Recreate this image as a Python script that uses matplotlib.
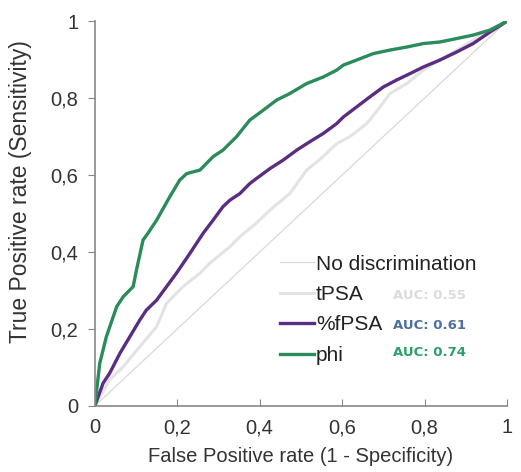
import numpy as np
import matplotlib.pyplot as plt

plt.rcParams['font.family'] = ['Liberation Sans', 'DejaVu Sans']

# ROC curves (false positive rate, true positive rate)
phi_fpr = [0, 0.012, 0.028, 0.053, 0.069, 0.093, 0.101, 0.117, 0.129, 0.150, 0.182, 0.206,
           0.223, 0.255, 0.287, 0.311, 0.344, 0.376, 0.409, 0.441, 0.473, 0.514, 0.554,
           0.587, 0.603, 0.635, 0.676, 0.716, 0.757, 0.797, 0.837, 0.878, 0.918, 0.959, 1]
phi_tpr = [0, 0.111, 0.180, 0.258, 0.284, 0.310, 0.353, 0.431, 0.449, 0.483, 0.544, 0.587,
           0.604, 0.613, 0.648, 0.665, 0.700, 0.743, 0.769, 0.795, 0.812, 0.838, 0.855,
           0.873, 0.886, 0.899, 0.916, 0.925, 0.933, 0.942, 0.946, 0.955, 0.964, 0.977, 1]

fpsa_fpr = [0, 0.020, 0.036, 0.061, 0.085, 0.109, 0.125, 0.150, 0.174, 0.198, 0.231, 0.263,
            0.287, 0.311, 0.328, 0.352, 0.376, 0.392, 0.425, 0.457, 0.490, 0.522, 0.554,
            0.587, 0.603, 0.635, 0.667, 0.700, 0.732, 0.765, 0.797, 0.837, 0.878, 0.918,
            0.959, 1]
fpsa_tpr = [0, 0.059, 0.085, 0.137, 0.180, 0.223, 0.249, 0.275, 0.310, 0.345, 0.397, 0.449,
            0.483, 0.518, 0.535, 0.552, 0.578, 0.591, 0.617, 0.639, 0.665, 0.687, 0.708,
            0.734, 0.751, 0.777, 0.803, 0.829, 0.847, 0.864, 0.881, 0.899, 0.920, 0.942,
            0.972, 1]

tpsa_fpr = [0, 0.036, 0.069, 0.109, 0.150, 0.174, 0.214, 0.255, 0.279, 0.328, 0.352, 0.392,
            0.425, 0.473, 0.514, 0.554, 0.587, 0.619, 0.660, 0.692, 0.716, 0.757, 0.797,
            0.878, 0.959, 1]
tpsa_tpr = [0, 0.068, 0.102, 0.154, 0.206, 0.267, 0.310, 0.345, 0.371, 0.414, 0.440, 0.475,
            0.509, 0.552, 0.613, 0.648, 0.682, 0.700, 0.734, 0.777, 0.812, 0.838, 0.873,
            0.925, 0.977, 1]

diag = [0, 1]
auc_labels = ['AUC: 0.55', 'AUC: 0.61', 'AUC: 0.74']
ticks = [0, 0.2, 0.4, 0.6, 0.8, 1]
tick_labels = ['0', '0,2', '0,4', '0,6', '0,8', '1']

fig = plt.figure(figsize=(5.21, 4.72), dpi=100)
ax = fig.add_axes([0.182, 0.140, 0.791, 0.815])

ax.plot(diag, diag, color='#d9d9d9', lw=0.9, label='No discrimination')
ax.plot(tpsa_fpr, tpsa_tpr, color='#e3e3e3', lw=2.2, label='tPSA')
ax.plot(fpsa_fpr, fpsa_tpr, color='#5a2d82', lw=2.4, label='%fPSA')
ax.plot(phi_fpr, phi_tpr, color='#2b8b5a', lw=2.4, label='phi')

ax.set_xlim(0, 1)
ax.set_ylim(0, 1)
ax.set_xticks(ticks)
ax.set_xticklabels(tick_labels)
ax.set_yticks(ticks)
ax.set_yticklabels(tick_labels)
ax.tick_params(axis='x', direction='in', length=5, color='#888888', labelsize=14.5, pad=9,
               labelcolor='#333333')
ax.tick_params(axis='y', direction='out', length=5, color='#888888', labelsize=14.5, pad=7,
               labelcolor='#333333')
for s in ['top', 'right']:
    ax.spines[s].set_visible(False)
for s in ['left', 'bottom']:
    ax.spines[s].set_color('#888888')
    ax.spines[s].set_linewidth(1.2)

ax.set_xlabel('False Positive rate (1 - Specificity)', fontsize=14.5, color='#333333', labelpad=7)
ax.set_ylabel('True Positive rate (Sensitivity)', fontsize=16.5, color='#333333')
ax.yaxis.set_label_coords(-0.153, 0.558)

leg = ax.legend(loc='lower left', bbox_to_anchor=(0.43, 0.085), frameon=False, fontsize=15,
                handlelength=1.6, handletextpad=0.1, labelspacing=0.55, borderaxespad=0)
for t in leg.get_texts():
    t.set_color('#222222')

auc_colors = ['#dcdcdc', '#4f6f9f', '#2e9e6a']
auc_y = [0.288, 0.210, 0.138]
for lab, c, yy in zip(auc_labels, auc_colors, auc_y):
    ax.text(0.723, yy, lab, color=c, fontsize=9.5, fontweight='bold', transform=ax.transAxes,
            va='center', family='DejaVu Sans')

fig.savefig('out.png', dpi=100)
